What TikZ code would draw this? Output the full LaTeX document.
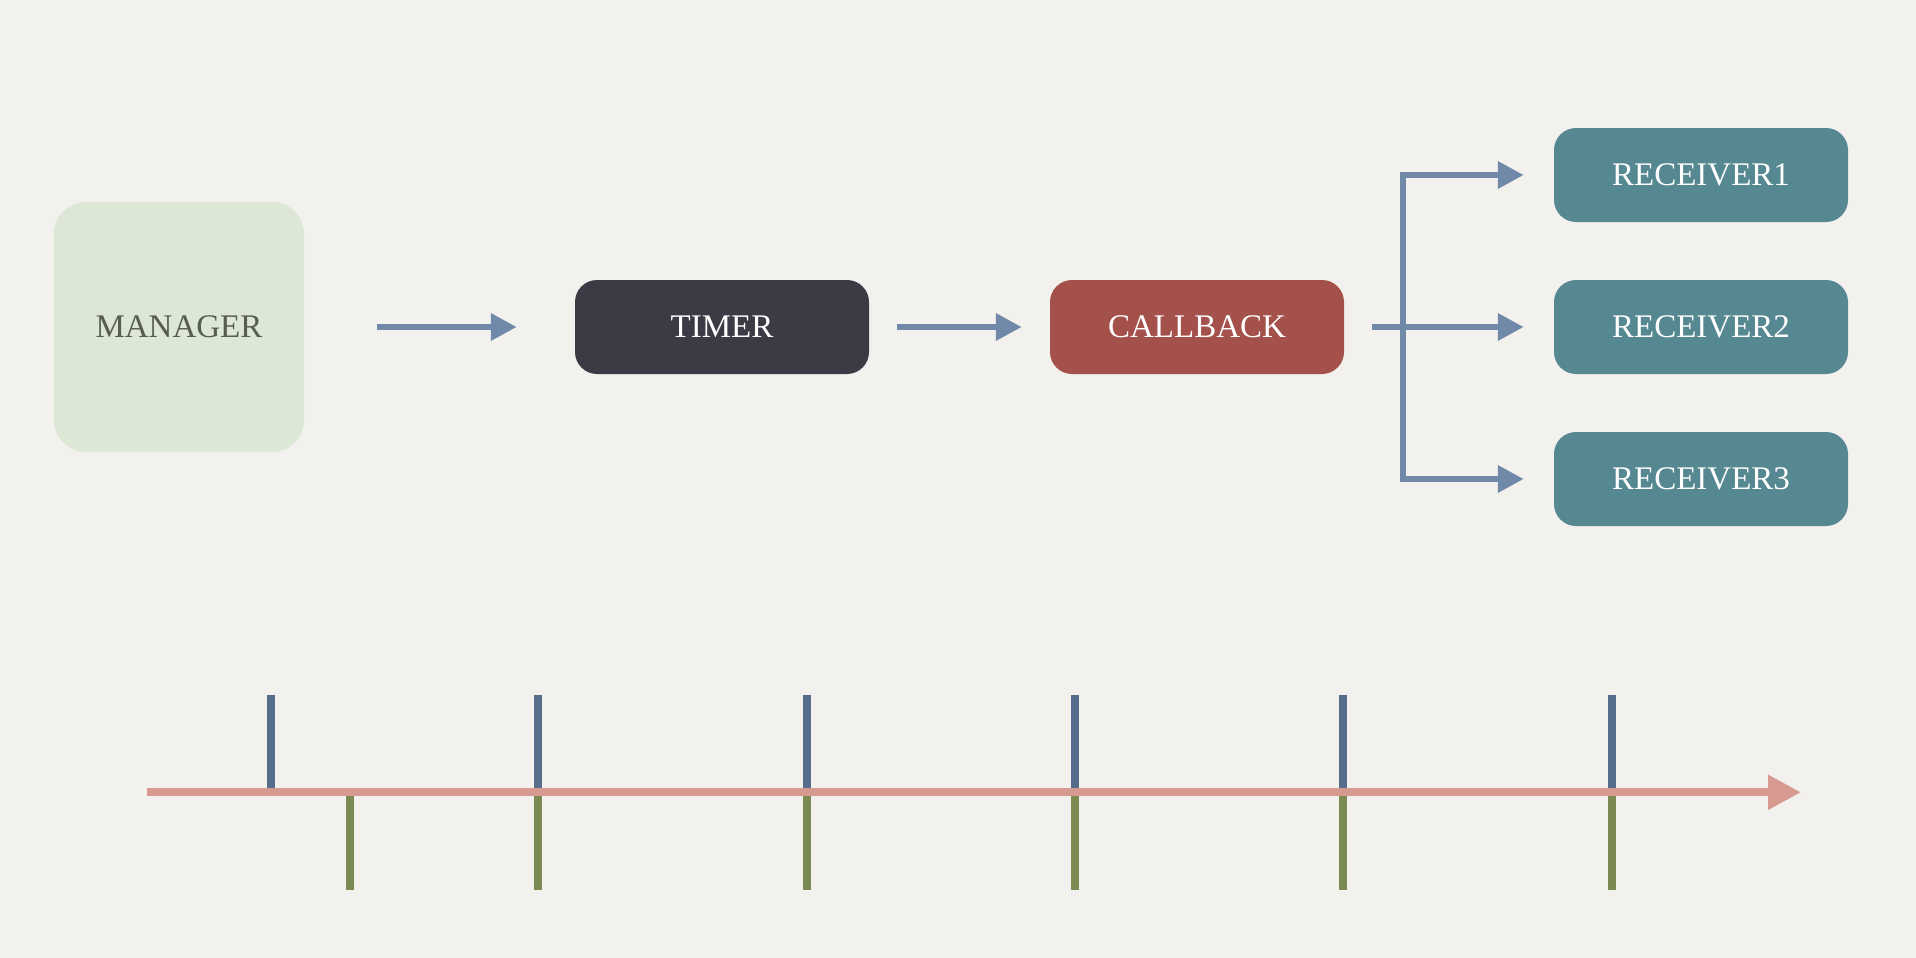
\documentclass[tikz,border=0pt]{standalone}
\usepackage{fontspec}
\setmainfont{Liberation Serif}
\usetikzlibrary{arrows.meta}
\definecolor{bg}{HTML}{F2F1ED}
\definecolor{mgrfill}{HTML}{DCE7D6}
\definecolor{mgrtext}{HTML}{585C52}
\definecolor{timerfill}{HTML}{3C3B45}
\definecolor{cbfill}{HTML}{A4514B}
\definecolor{recfill}{HTML}{558890}
\definecolor{arrowblue}{HTML}{7189A9}
\definecolor{tickblue}{HTML}{566E8C}
\definecolor{tickgreen}{HTML}{7A8A50}
\definecolor{timeline}{HTML}{D79A90}
\tikzset{
  box/.style={rounded corners=22pt, minimum width=294pt, minimum height=94pt,
    inner sep=0pt, font=\fontsize{33}{40}\selectfont, text=white},
  mgrbox/.style={box, fill=mgrfill, text=mgrtext, minimum width=250pt,
    minimum height=250pt, rounded corners=32pt},
  flow/.style={draw=arrowblue, line width=6.5pt,
    -{Triangle[length=26pt,width=26pt]}},
  forkline/.style={draw=arrowblue, line width=6.5pt, line cap=rect},
  tline/.style={draw=timeline, line width=8pt,
    -{Triangle[length=33pt,width=33pt]}},
  bluetick/.style={draw=tickblue, line width=8pt},
  greentick/.style={draw=tickgreen, line width=8pt}
}
\begin{document}
\begin{tikzpicture}[x=1pt,y=-1pt]
\fill[bg] (0,0) rectangle (1916,958);
\useasboundingbox (0,0) rectangle (1916,958);

\node[mgrbox] (mgr) at (179,327) {MANAGER};
\node[box, fill=timerfill] (timer) at (722,327) {TIMER};
\node[box, fill=cbfill] (cb) at (1197,327) {CALLBACK};
\node[box, fill=recfill] (r1) at (1701,175) {RECEIVER1};
\node[box, fill=recfill] (r2) at (1701,327) {RECEIVER2};
\node[box, fill=recfill] (r3) at (1701,479) {RECEIVER3};
\coordinate (fork) at (1403,327);

\draw[flow, shorten <=73pt, shorten >=58pt] (mgr.east) -- (timer.west);
\draw[flow, shorten <=28pt, shorten >=28pt] (timer.east) -- (cb.west);
\draw[forkline] (fork |- r1.west) -- (fork |- r3.west);
\draw[flow, shorten <=28pt, shorten >=30pt] (cb.east) -- (r2.west);
\draw[flow, shorten >=30pt] (fork |- r1.west) -- (r1.west);
\draw[flow, shorten >=30pt] (fork |- r3.west) -- (r3.west);

% timeline
\draw[tline] (146.6,792.3) -- (1801,792.3);
\foreach \x in {271.3,537.6,806.5,1075.3,1342.9,1611.7}
  \draw[bluetick] (\x,695) -- (\x,788.3);
\foreach \x in {349.5,537.6,806.5,1075.3,1342.9,1611.7}
  \draw[greentick] (\x,796.3) -- (\x,890);
\end{tikzpicture}
\end{document}
